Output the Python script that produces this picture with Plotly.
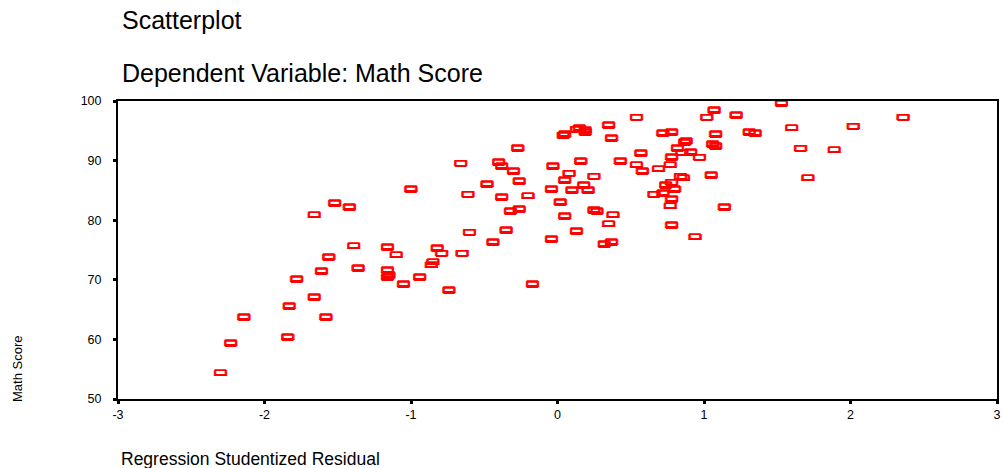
import plotly.graph_objects as go

residual = [
    -2.30, -2.23, -2.14, -1.84, -1.83, -1.78, -1.66, -1.58, -1.66, -1.61, -1.56, -1.52, -1.42, -1.39, -1.36,
    -1.16, -1.10, -1.16, -1.15, -1.16, -1.05, -0.94, -1.00, -0.86, -0.85, -0.82, -0.79, -0.74, -0.66, -0.65,
    -0.61, -0.60, -0.48, -0.44, -0.40, -0.38, -0.38, -0.35, -0.30, -0.32, -0.27, -0.26, -0.26, -0.20, -0.17,
    -0.04, -0.04, -0.03, 0.02, 0.04, 0.05, 0.05, 0.05, 0.08, 0.10, 0.13, 0.13, 0.15, 0.16, 0.18,
    0.19, 0.19, 0.21, 0.25, 0.25, 0.27, 0.35, 0.37, 0.35, 0.38, 0.32, 0.37, 0.43, 0.54, 0.54,
    0.57, 0.58, 0.66, 0.69, 0.72, 0.78, 0.72, 0.77, 0.78, 0.74, 0.78, 0.80, 0.78, 0.77, 0.78, 0.82,
    1.53, 1.07, 1.02, 1.22, 2.36, 2.02, 1.60, 1.08, 1.31, 1.35, 0.87, 0.88, 1.06, 1.08, 0.85,
    0.91, 0.97, 1.66, 1.89, 1.05, 0.84, 0.86, 1.71, 1.14, 0.94,
]
math_score = [
    54.4, 59.4, 63.7, 60.4, 65.6, 70.1, 67.1, 63.7, 80.9, 71.4, 73.8, 82.8, 82.2, 75.7, 71.9,
    75.5, 74.2, 71.6, 70.8, 70.4, 69.3, 70.4, 85.2, 72.5, 73.0, 75.3, 74.4, 68.2, 89.5, 74.4,
    84.3, 77.9, 86.0, 76.3, 89.7, 89.0, 83.9, 78.3, 88.2, 81.5, 92.1, 86.5, 81.8, 84.1, 69.3,
    85.2, 76.8, 89.0, 83.0, 94.2, 94.4, 86.7, 80.7, 87.8, 85.0, 78.1, 95.2, 95.5, 89.9, 85.9,
    95.1, 94.8, 85.0, 87.3, 81.7, 81.5, 95.9, 93.7, 79.4, 80.9, 76.0, 76.3, 89.9, 97.2, 89.3,
    91.2, 88.2, 84.3, 88.6, 94.6, 94.8, 84.5, 89.3, 90.6, 85.9, 86.3, 85.2, 83.5, 82.4, 79.2, 92.1,
    99.6, 98.5, 97.2, 97.6, 97.2, 95.7, 95.5, 94.4, 94.8, 94.6, 93.1, 93.3, 92.7, 92.4, 91.3,
    91.4, 90.5, 92.0, 91.8, 87.5, 87.3, 87.1, 87.1, 82.2, 77.2,
]

x_ticks = [-3, -2, -1, 0, 1, 2, 3]
y_ticks = [50, 60, 70, 80, 90, 100]

W, H = 1004, 468
ML, MR, MT, MB = 118, 7, 101, 69

fig = go.Figure()
fig.add_trace(go.Scatter(
    x=residual, y=math_score, mode="text",
    text=["\u25AD"] * len(residual),
    textfont=dict(color="#ff0000", size=15, family="DejaVu Sans",
                  shadow="0.8px 0px 0px #ff0000, -0.8px 0px 0px #ff0000, 0px 0.8px 0px #ff0000, 0px -0.8px 0px #ff0000"),
    textposition="middle center",
    cliponaxis=False,
    hoverinfo="x+y",
))

tick_font = dict(family="Liberation Sans, Arial", size=12.5, color="black")
plot_w = W - ML - MR
plot_h = H - MT - MB


def px_to_paper_x(px):
    return (px - ML) / plot_w


def px_to_paper_y(py):
    return (H - MB - py) / plot_h


title_font = dict(family="Liberation Sans, Arial", size=25, color="black")
fig.update_layout(
    width=W, height=H,
    margin=dict(l=ML, r=MR, t=MT, b=MB, autoexpand=False),
    paper_bgcolor="white", plot_bgcolor="white",
    showlegend=False,
    xaxis=dict(range=[-3, 3], tickvals=x_ticks, ticktext=[str(v) for v in x_ticks],
               showgrid=False, zeroline=False, showline=True, linecolor="black", linewidth=2,
               mirror=True, ticks="outside", ticklen=3, tickwidth=3, tickcolor="black",
               tickfont=tick_font),
    yaxis=dict(range=[50, 100], tickvals=y_ticks, ticktext=[str(v) for v in y_ticks],
               showgrid=False, zeroline=False, showline=True, linecolor="black", linewidth=2,
               mirror=True, ticks="outside", ticklen=3, tickwidth=3, tickcolor="black",
               tickfont=tick_font, ticklabelstandoff=9),
    annotations=[
        dict(text="Scatterplot", x=px_to_paper_x(120), y=px_to_paper_y(20), xref="paper", yref="paper",
             xanchor="left", yanchor="middle", showarrow=False, font=title_font),
        dict(text="Dependent Variable: Math Score", x=px_to_paper_x(120), y=px_to_paper_y(73),
             xref="paper", yref="paper", xanchor="left", yanchor="middle", showarrow=False, font=title_font),
        dict(text="Regression Studentized Residual", x=px_to_paper_x(119), y=px_to_paper_y(459),
             xref="paper", yref="paper", xanchor="left", yanchor="middle", showarrow=False,
             font=dict(family="Liberation Sans, Arial", size=17.5, color="black")),
        dict(text="Math Score", x=px_to_paper_x(17), y=px_to_paper_y(369), xref="paper", yref="paper",
             xanchor="center", yanchor="middle", textangle=-90, showarrow=False,
             font=dict(family="Liberation Sans, Arial", size=13, color="black")),
    ],
)

fig.write_html("out.html", post_script="document.body.style.margin='0';",
               config={"displayModeBar": False})
